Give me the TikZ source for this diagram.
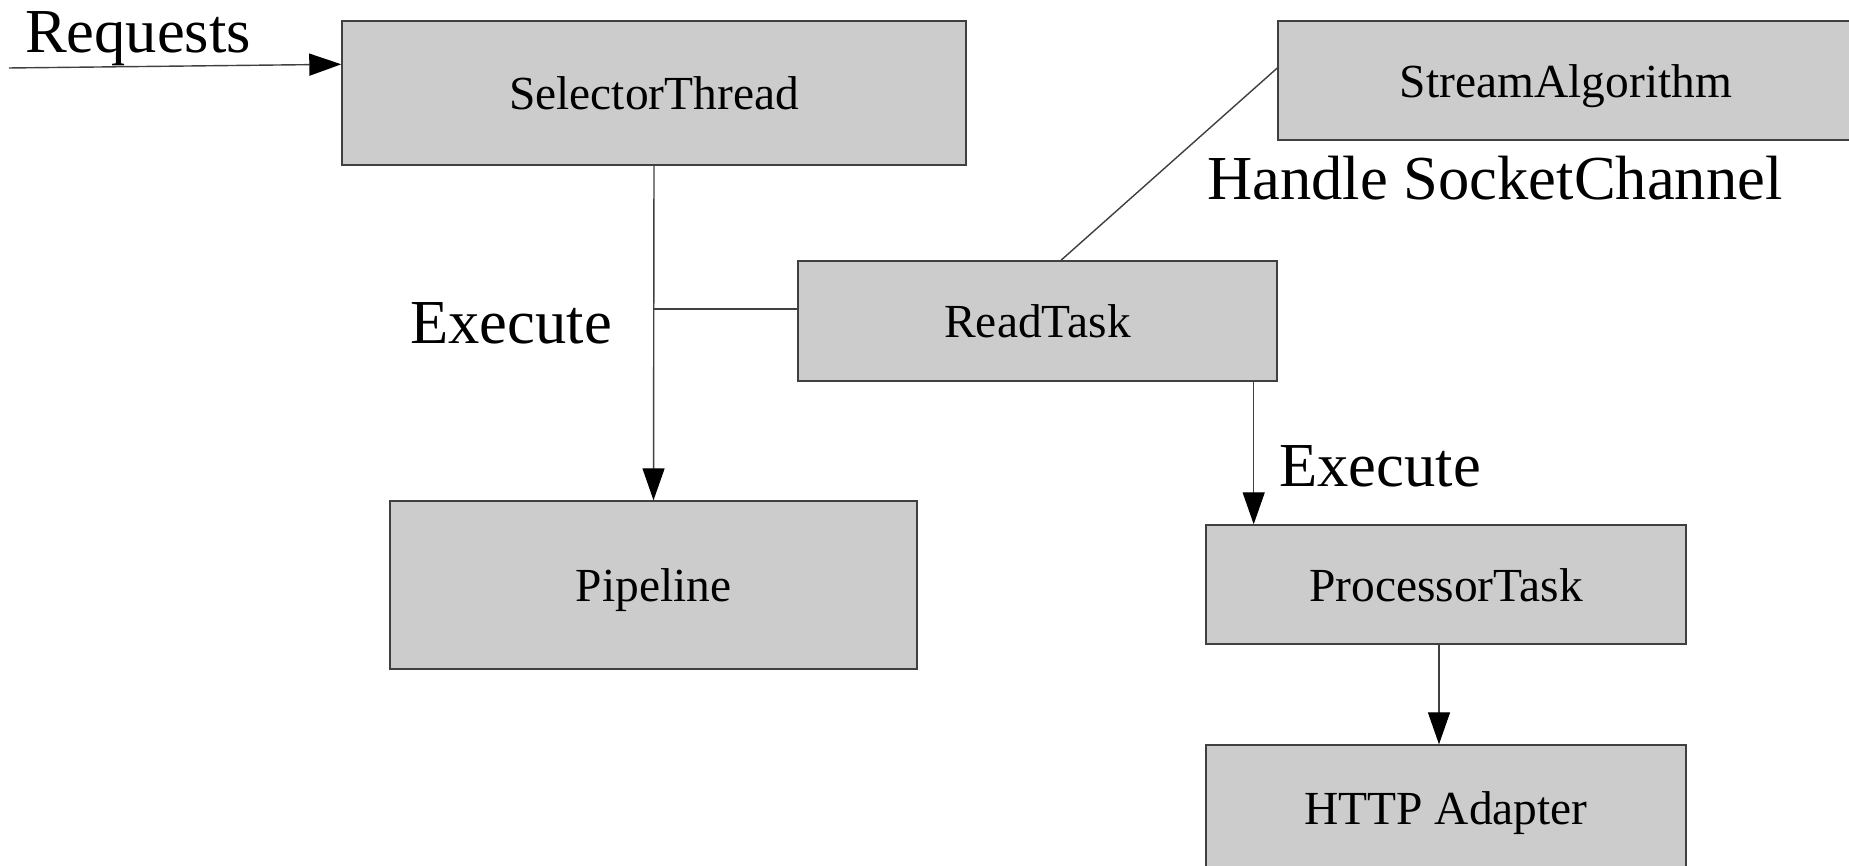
\documentclass[tikz,border=0pt]{standalone}
\usepackage{fontspec}
\setmainfont{Liberation Serif}
\usetikzlibrary{arrows.meta}
\begin{document}
\begin{tikzpicture}[
  box/.style={draw=black!75, line width=0.4pt, fill=black!20, inner sep=0pt,
    text height=3.4mm, text depth=0mm, font=\fontsize{13.5}{16}\selectfont},
  lbl/.style={font=\fontsize{17.8}{21}\selectfont, inner sep=0pt, anchor=base},
  arr/.style={-{Triangle[length=3.2mm,width=2.2mm,black]}},
  line/.style={draw=black!75, line width=0.4pt}]
\clip (0,0) rectangle (18.49,8.66);
\node[box, minimum width=6.24cm, minimum height=1.44cm] (sel) at (6.54,7.73) {SelectorThread};
\node[box, minimum width=5.76cm, minimum height=1.19cm] (stream) at (15.66,7.855) {StreamAlgorithm};
\node[box, minimum width=4.79cm, minimum height=1.20cm] (read) at (10.375,5.45) {ReadTask};
\node[box, minimum width=5.27cm, minimum height=1.68cm] (pipe) at (6.535,2.81) {Pipeline};
\node[box, minimum width=4.80cm, minimum height=1.19cm] (proc) at (14.46,2.815) {ProcessorTask};
\node[box, minimum width=4.80cm, minimum height=1.25cm] (http) at (14.46,0.585) {HTTP Adapter};
\node[lbl] (req) at (1.38,8.13) {Requests};
\node[lbl] (exec1) at (5.11,5.22) {Execute};
\node[lbl] (exec2) at (13.80,3.79) {Execute};
\node[lbl] (handle) at (14.95,6.66) {Handle SocketChannel};
\coordinate (in) at (0.09,7.98);
% connectors
\draw[line, arr] (in) -- ([yshift=-0.44cm]sel.north west);
\draw[line, arr] (sel.south) -- (pipe.north);
\draw[line] ([yshift=1.2mm]read.west) -- ([yshift=1.2mm]sel.south |- read.west);
\draw[line] ([xshift=2.35mm]read.north) -- ([yshift=1.25mm]stream.west);
\draw[line, arr] ([xshift=-2.4mm]read.south east) -- ([xshift=-2.4mm]read.south east |- proc.north);
\draw[line, arr] ([xshift=-0.7mm]proc.south) -- ([xshift=-0.7mm]http.north);
\end{tikzpicture}
\end{document}
